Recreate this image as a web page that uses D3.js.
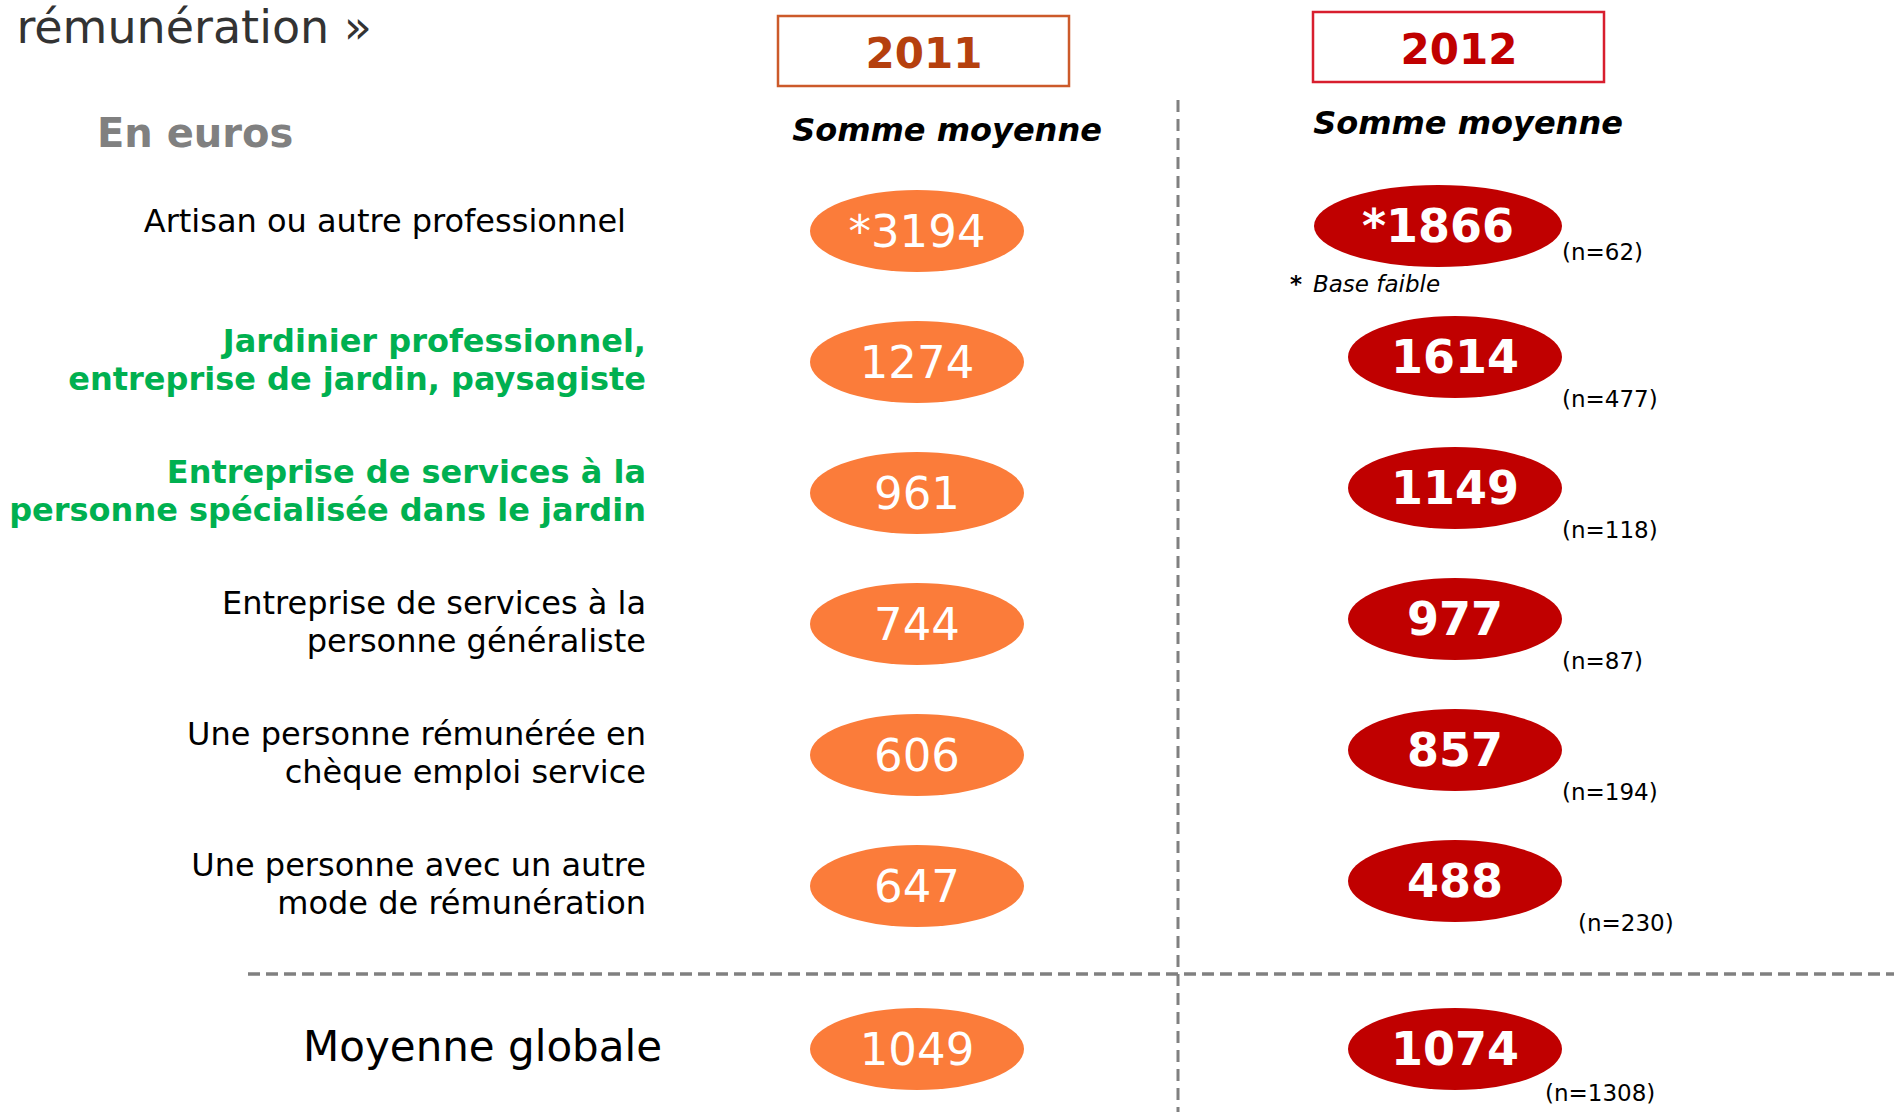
<!DOCTYPE html>
<html lang="fr">
<head>
<meta charset="UTF-8">
<title>Somme moyenne par mode de rémunération</title>
<script src="https://cdn.jsdelivr.net/npm/d3@7"></script>
<style>
  body { margin: 0; background: #fff; }
  svg { display: block; font-family: "DejaVu Sans", Verdana, sans-serif; }
</style>
</head>
<body>
<svg></svg>
<script>
// data
var categories = [
  ['Artisan ou autre professionnel'],
  ['Jardinier professionnel,', 'entreprise de jardin, paysagiste'],
  ['Entreprise de services à la', 'personne spécialisée dans le jardin'],
  ['Entreprise de services à la', 'personne généraliste'],
  ['Une personne rémunérée en', 'chèque emploi service'],
  ['Une personne avec un autre', 'mode de rémunération']
];
var highlighted = [false, true, true, false, false, false];
var years = ['2011', '2012'];
var values2011 = ['*3194', '1274', '961', '744', '606', '647'];
var values2012 = ['*1866', '1614', '1149', '977', '857', '488'];
var n2012 = [62, 477, 118, 87, 194, 230];
var globalLabel = 'Moyenne globale';
var global2011 = '1049';
var global2012 = '1074';
var globalN = 1308;

var width = 1894, height = 1112;
var orange = '#fb7c3a', red = '#c00000', green = '#00b050', grey = '#808080';

var svg = d3.select('svg').attr('width', width).attr('height', height);

var x = d3.scalePoint().domain(years).range([917, 1455]);
var y = d3.scalePoint().domain(d3.range(categories.length)).range([231, 886]);
var globalY = 1049;
var rx = 107, ry = 41;

// title (only its end is on the slide)
svg.append('text')
  .attr('x', 372).attr('y', 43)
  .attr('text-anchor', 'end')
  .attr('font-size', 46)
  .attr('fill', '#333')
  .text('rémunération »');

svg.append('text')
  .attr('x', 97).attr('y', 147)
  .attr('font-size', 40).attr('font-weight', 'bold')
  .attr('fill', grey)
  .text('En euros');

// year boxes
var boxes = [
  { year: '2011', x0: 778, y0: 16, stroke: '#cc5a2a', color: '#b5400e', subX: 947, subY: 141 },
  { year: '2012', x0: 1313, y0: 12, stroke: '#d81e2e', color: '#c00000', subX: 1468, subY: 134 }
];
boxes.forEach(function (b) {
  svg.append('rect')
    .attr('x', b.x0).attr('y', b.y0)
    .attr('width', 291).attr('height', 70)
    .attr('fill', 'none').attr('stroke', b.stroke).attr('stroke-width', 2.5);
  svg.append('text')
    .attr('x', b.x0 + 146).attr('y', b.y0 + 52)
    .attr('text-anchor', 'middle')
    .attr('font-size', 42).attr('font-weight', 'bold')
    .attr('fill', b.color)
    .text(b.year);
  svg.append('text')
    .attr('x', b.subX).attr('y', b.subY)
    .attr('text-anchor', 'middle')
    .attr('font-size', 32).attr('font-weight', 'bold').attr('font-style', 'italic')
    .attr('fill', '#000')
    .text('Somme moyenne');
});

// dashed separators
svg.append('line')
  .attr('x1', 1178).attr('x2', 1178).attr('y1', 100).attr('y2', height)
  .attr('stroke', grey).attr('stroke-width', 3).attr('stroke-dasharray', '12,7');
svg.append('line')
  .attr('x1', 248).attr('x2', width).attr('y1', 974).attr('y2', 974)
  .attr('stroke', grey).attr('stroke-width', 3.5).attr('stroke-dasharray', '12,6');

// row labels
var labels = svg.append('g').selectAll('text')
  .data(categories)
  .enter().append('text')
  .attr('text-anchor', 'end')
  .attr('font-size', 32)
  .attr('font-weight', function (d, i) { return highlighted[i] ? 'bold' : 'normal'; })
  .attr('fill', function (d, i) { return highlighted[i] ? green : '#000'; });

labels.selectAll('tspan')
  .data(function (d, i) { return d.map(function (t, k) { return { t: t, k: k, n: d.length, i: i }; }); })
  .enter().append('tspan')
  .attr('x', function (d) { return d.n === 1 ? 626 : 646; })
  .attr('y', function (d) {
    if (d.n === 1) return y(d.i) + 1;
    return y(d.i) - 10 + d.k * 38;
  })
  .text(function (d) { return d.t; });

svg.append('text')
  .attr('x', 662).attr('y', 1061)
  .attr('text-anchor', 'end')
  .attr('font-size', 42)
  .attr('fill', '#000')
  .text(globalLabel);

// ovals
function oval(g, cx, cy, w, fill, label, bold, size) {
  g.append('ellipse')
    .attr('cx', cx).attr('cy', cy).attr('rx', w).attr('ry', ry)
    .attr('fill', fill);
  g.append('text')
    .attr('x', cx).attr('y', cy + 16)
    .attr('text-anchor', 'middle')
    .attr('font-size', size)
    .attr('font-weight', bold ? 'bold' : 'normal')
    .attr('fill', '#fff')
    .text(label);
}

var g11 = svg.append('g');
values2011.forEach(function (v, i) {
  oval(g11, x('2011'), y(i), rx, orange, v, false, 45);
});
oval(g11, x('2011'), globalY, rx, orange, global2011, false, 45);

var g12 = svg.append('g');
var right12 = x('2012') + rx;
values2012.forEach(function (v, i) {
  var w = v.charAt(0) === '*' ? 124 : rx;   // low base oval is wider, same right edge
  oval(g12, right12 - w, y(i) - 5, w, red, v, true, 46);
  svg.append('text')
    .attr('x', right12 + (i === 5 ? 16 : 0))
    .attr('y', y(i) - 5 + (i === 0 ? 34 : 50))
    .attr('font-size', 23)
    .attr('fill', '#000')
    .text('(n=' + n2012[i] + ')');
});
oval(g12, x('2012'), globalY, rx, red, global2012, true, 46);
svg.append('text')
  .attr('x', right12 - 17).attr('y', globalY + 52)
  .attr('font-size', 23).attr('fill', '#000')
  .text('(n=' + globalN + ')');

// low base note
svg.append('text')
  .attr('x', 1290).attr('y', 292)
  .attr('font-size', 23).attr('font-weight', 'bold')
  .text('*');
svg.append('text')
  .attr('x', 1313).attr('y', 292)
  .attr('font-size', 23).attr('font-style', 'italic')
  .text('Base faible');
</script>
</body>
</html>
